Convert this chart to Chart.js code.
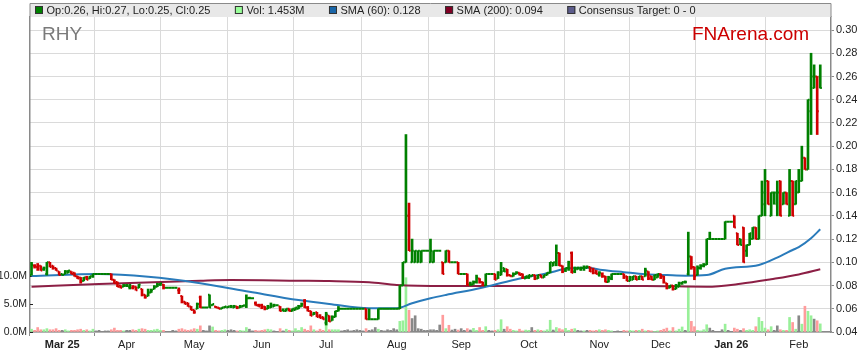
<!DOCTYPE html>
<html><head><meta charset="utf-8">
<script src="https://cdn.jsdelivr.net/npm/chart.js@4.4.1/dist/chart.umd.min.js"></script>
<style>html,body{margin:0;padding:0;background:#fff;}#wrap{position:relative;width:859px;height:363px;}</style>
</head><body><div id="wrap"><canvas id="c" width="859" height="363"></canvas></div>
<script>
// ---------- DATA ----------
const symbol = 'RHY';
const brand = 'FNArena.com';
// x index = weekday number counted from 17 Feb 2025
const monthTickIdx = [10,31,53,75,96,119,140,162,185,205,228,250];
const monthTickLabels = ['Mar 25','Apr','May','Jun','Jul','Aug','Sep','Oct','Nov','Dec','Jan 26','Feb'];
const yearTickLabels = ['Mar 25','Jan 26'];
const priceTicks = [0.04,0.06,0.08,0.10,0.12,0.14,0.16,0.18,0.20,0.22,0.24,0.26,0.28,0.30];
const volTicksM = [0,5,10];
const legendTexts = ['Op:0.26, Hi:0.27, Lo:0.25, Cl:0.25','Vol: 1.453M','SMA (60): 0.128','SMA (200): 0.094','Consensus Target: 0 - 0'];

const opens = [
.089,.097,.096,.097,.094,.090,.100,.097,.095,.092,
.090,.090,.091,.092,.091,.088,.087,.084,.087,.086,
.088,.090,.090,.090,.090,.090,.090,.085,.083,.080,
.079,.080,.079,.078,.079,.078,.077,.072,.071,.074,
.077,.079,.081,.081,.078,.078,.078,.078,.076,.071,
.066,.065,.062,.059,.060,.070,.061,.061,.072,.063,
.062,.061,.060,.061,.061,.062,.061,.062,.061,.062,
.062,.069,.069,.065,.063,.063,.062,.060,.061,.062,
.063,.062,.059,.058,.060,.058,.059,.060,.062,.067,
.061,.058,.055,.057,.054,.053,.048,.054,.050,.053,
.058,.060,.060,.060,.060,.060,.060,.060,.060,.060,
.051,.051,.051,.051,.060,.060,.060,.060,.060,.060,
.060,.080,.100,.140,.100,.100,.100,.100,.110,.110,
.100,.100,.110,.110,.100,.100,.110,.100,.100,.100,
.090,.090,.090,.082,.081,.083,.086,.083,.080,.090,
.090,.090,.086,.089,.095,.094,.089,.088,.090,.091,
.090,.086,.087,.088,.089,.086,.089,.087,.089,.091,
.097,.100,.108,.097,.093,.095,.108,.092,.094,.094,
.095,.095,.096,.094,.093,.089,.090,.088,.083,.086,
.090,.090,.090,.090,.088,.084,.085,.088,.086,.088,
.088,.092,.088,.085,.087,.090,.088,.082,.078,.080,
.077,.079,.082,.083,.090,.105,.096,.089,.095,.097,
.098,.120,.120,.120,.120,.120,.120,.135,.135,.140,
.125,.120,.130,.110,.115,.120,.130,.120,.140,.150,
.170,.140,.160,.150,.170,.150,.160,.140,.170,.150,
.160,.170,.190,.180,.230,.250,.260,.260];
const highs = [
.100,.098,.099,.097,.096,.100,.100,.097,.095,.092,
.090,.093,.093,.092,.091,.088,.087,.087,.088,.088,
.090,.090,.090,.090,.090,.090,.090,.085,.083,.080,
.081,.081,.081,.080,.079,.081,.077,.072,.077,.077,
.080,.082,.082,.081,.078,.078,.078,.078,.078,.071,
.066,.065,.062,.059,.065,.071,.061,.061,.072,.064,
.062,.061,.061,.062,.062,.063,.063,.062,.063,.063,
.072,.070,.069,.066,.064,.064,.062,.063,.065,.064,
.063,.062,.060,.060,.060,.060,.061,.063,.065,.068,
.062,.058,.057,.057,.055,.053,.057,.054,.054,.058,
.062,.060,.060,.060,.060,.060,.060,.060,.060,.060,
.060,.051,.051,.060,.060,.060,.060,.060,.060,.060,
.080,.100,.210,.151,.120,.110,.110,.110,.110,.110,
.120,.110,.110,.110,.100,.110,.110,.100,.100,.100,
.090,.090,.090,.083,.084,.089,.086,.083,.090,.090,
.090,.090,.092,.100,.095,.094,.089,.091,.092,.091,
.090,.088,.089,.089,.089,.089,.089,.089,.091,.100,
.100,.115,.108,.097,.095,.101,.109,.096,.096,.096,
.097,.097,.096,.095,.093,.092,.091,.088,.088,.090,
.090,.090,.090,.090,.088,.088,.088,.088,.088,.088,
.095,.092,.088,.089,.090,.090,.088,.082,.080,.080,
.081,.083,.083,.084,.126,.105,.096,.097,.098,.099,
.120,.126,.120,.120,.120,.120,.135,.135,.135,.140,
.125,.120,.130,.115,.125,.130,.130,.140,.170,.180,
.170,.160,.160,.170,.170,.160,.160,.180,.170,.170,
.180,.200,.190,.240,.280,.270,.260,.270];
const lows = [
.089,.095,.093,.093,.093,.089,.096,.094,.093,.089,
.089,.090,.091,.090,.088,.086,.082,.084,.085,.086,
.087,.090,.090,.090,.090,.090,.085,.082,.079,.078,
.079,.079,.077,.077,.076,.078,.071,.069,.071,.074,
.077,.079,.080,.077,.078,.078,.078,.078,.073,.065,
.064,.062,.059,.056,.060,.061,.061,.061,.061,.063,
.061,.060,.060,.061,.061,.061,.061,.060,.061,.062,
.061,.069,.069,.063,.062,.060,.059,.060,.061,.062,
.063,.058,.058,.058,.058,.058,.059,.060,.062,.061,
.058,.054,.055,.053,.052,.051,.046,.049,.050,.053,
.058,.060,.060,.060,.060,.060,.060,.060,.060,.051,
.051,.051,.051,.051,.060,.060,.060,.060,.060,.060,
.060,.080,.100,.110,.100,.100,.100,.100,.110,.110,
.100,.100,.110,.110,.090,.100,.100,.100,.100,.090,
.090,.090,.080,.080,.081,.082,.082,.080,.080,.090,
.090,.085,.086,.089,.092,.088,.088,.088,.090,.089,
.086,.086,.086,.088,.085,.086,.087,.087,.089,.091,
.097,.097,.097,.091,.092,.093,.091,.091,.094,.093,
.093,.095,.092,.090,.090,.088,.087,.083,.083,.085,
.090,.090,.090,.086,.084,.084,.085,.085,.085,.085,
.088,.085,.085,.085,.087,.086,.082,.077,.078,.076,
.077,.079,.081,.082,.089,.094,.085,.089,.094,.096,
.098,.120,.120,.120,.120,.120,.120,.135,.135,.130,
.115,.115,.100,.105,.115,.120,.120,.120,.140,.140,
.150,.140,.150,.140,.140,.150,.150,.140,.140,.150,
.160,.170,.180,.180,.210,.250,.210,.250];
const closes = [
.098,.097,.095,.093,.095,.100,.096,.095,.093,.089,
.089,.092,.093,.090,.088,.086,.083,.087,.085,.088,
.090,.090,.090,.090,.090,.090,.085,.082,.079,.078,
.080,.080,.080,.079,.076,.081,.072,.070,.074,.076,
.079,.081,.082,.078,.078,.078,.078,.078,.076,.066,
.064,.062,.059,.057,.064,.061,.061,.061,.061,.064,
.061,.060,.061,.062,.062,.062,.062,.061,.062,.063,
.069,.069,.069,.063,.062,.061,.060,.062,.063,.063,
.063,.058,.058,.060,.058,.060,.061,.062,.064,.061,
.058,.054,.056,.053,.052,.051,.055,.049,.053,.058,
.060,.060,.060,.060,.060,.060,.060,.060,.060,.051,
.051,.051,.051,.060,.060,.060,.060,.060,.060,.060,
.080,.100,.140,.110,.110,.110,.110,.110,.110,.110,
.110,.110,.110,.110,.090,.110,.100,.100,.100,.090,
.090,.090,.081,.081,.083,.087,.083,.080,.090,.090,
.090,.085,.091,.092,.092,.089,.088,.090,.091,.089,
.087,.088,.089,.089,.086,.089,.087,.089,.091,.100,
.100,.108,.097,.092,.095,.100,.091,.095,.095,.095,
.096,.096,.092,.091,.090,.091,.088,.083,.087,.090,
.090,.090,.090,.087,.084,.087,.088,.085,.088,.085,
.093,.086,.085,.089,.090,.087,.083,.078,.080,.077,
.080,.082,.083,.083,.105,.096,.088,.095,.097,.098,
.120,.120,.120,.120,.120,.120,.135,.135,.135,.130,
.115,.115,.100,.115,.125,.130,.120,.140,.160,.170,
.150,.160,.160,.160,.140,.160,.150,.170,.140,.170,
.170,.190,.180,.240,.260,.260,.230,.250];
// volume in millions of shares
const volumesM = [
0.5,0.3,0.8,0.4,0.4,0.6,0.4,0.4,0.6,0.3,
0.3,0.4,0.2,0.3,0.3,0.4,0.5,0.3,0.4,0.2,
0.5,0.2,0.3,0.1,0.2,0.2,0.4,0.7,0.3,0.3,
0.2,0.3,0.3,0.4,0.3,0.5,0.6,0.5,0.3,0.3,
0.4,0.5,0.3,0.3,0,0,0.3,0.2,0.5,0.6,
0.4,0.3,0.4,0.6,0.5,1.1,0.3,0.2,1.1,0.9,
0.3,0.2,0.3,0.4,0.3,0.4,0.3,0.2,0.3,0.2,
0.8,0.5,0.2,0.3,0.2,0.3,0.4,0.5,0.4,0.2,
0,0.6,0.2,0.5,0.3,0.2,0.6,0.3,0.8,0.5,
0.3,1.1,0.4,0.2,0.5,0.3,2.1,0.4,0.4,0.4,
0.4,0.2,0.3,0.4,0.2,0.3,0.4,0.3,0.2,0.6,
0.3,0.4,0.8,0.5,0.3,0.2,0.4,0.3,0.6,0.4,
1.9,2.0,9.7,3.9,2.4,2.9,0.6,0.5,0.3,0.3,
0.4,0.4,0.3,1.25,3.0,0.6,1.2,0.35,0.5,0.35,
0.6,0.3,0.6,0.35,0.65,0.3,0.8,0.3,0.95,0.3,
0.2,0.3,0.4,2.2,0.5,0.95,0.5,0.3,0.2,0.5,
0.2,0.35,0.3,0.8,0.3,0.4,0.3,0.2,0.4,2.1,
0.35,0.8,0.6,0.4,0.65,0.3,0.5,0.6,0.3,0.2,
0.2,0.3,0.3,0.2,0.3,0.4,0.3,0.4,0.3,0.2,
0.1,0.2,0.1,0.3,0.2,0.3,0.2,0.3,0.3,0.5,
0.2,0.3,0.2,0.1,0.2,0.3,0.5,0.7,0.2,0.8,
0.2,0.5,0.9,0.3,8.2,1.9,0.95,0.3,0.2,0.4,
1.3,0.7,0.3,0,0,0.4,1.4,0.3,0,0.7,
0.5,0.3,0.6,0.3,0.4,0.3,0.95,2.6,1.9,0.7,
0.4,0.95,0.3,1.1,0.4,0.3,0.3,2.6,1.7,0.5,
2.9,1.4,4.6,3.7,2.9,2.3,2.0,1.45];
// moving averages at sample days
const sma60Idx = [0,22,38,55,71,87,97,110,119,124,130,135,146,157,162,168,175,181,186,193,200,207,213,220,226,237,244,248,250,254,257];
const sma60Val = [.0882,.0899,.0876,.0820,.0747,.0675,.0641,.0604,.0604,.0647,.0690,.0719,.0776,.0848,.0875,.0905,.0948,.0954,.0934,.0915,.0897,.0890,.0885,.0890,.0945,.0977,.1054,.1106,.1130,.1207,.1284];
const sma200Idx = [0,22,55,65,87,97,110,119,135,160,179,200,220,231,241,250,257];
const sma200Val = [.0790,.0813,.0842,.0848,.0842,.0839,.0828,.0805,.0796,.0796,.0796,.0796,.0790,.0815,.0854,.0895,.0940];

// ---------- STYLE ----------
const FONT = "'Liberation Sans', Arial, sans-serif";
const UP = '#008000', DOWN = '#d00000';
const VUP = '#99f099', VDOWN = '#ff9c9c', VFLAT = '#888888';
const legendColors = ['#008000','#99ff99','#1a66a8','#800024','#5c5c8c'];
const GRID = '#dadada', AXIS = '#8a8a8a', TXT = '#222';

const dir = closes.map((c,i)=> i===0 ? 1 : (c > closes[i-1] ? 1 : (c < closes[i-1] ? -1 : 0)));
const barColors = dir.map(d => d < 0 ? DOWN : UP);
const volColors = dir.map(d => d > 0 ? VUP : (d < 0 ? VDOWN : VFLAT));

const ohlcTicks = {
  id:'ohlcTicks',
  afterDatasetsDraw(chart){
    const xs = chart.scales.x, ys = chart.scales.yP, ctx = chart.ctx, a = chart.chartArea;
    const step = xs.getPixelForValue(1) - xs.getPixelForValue(0);
    const len = step/2;
    ctx.save();
    ctx.beginPath(); ctx.rect(a.left, a.top, a.right-a.left, a.bottom-a.top); ctx.clip();
    ctx.lineWidth = 2; ctx.lineCap = 'butt';
    for (let i=0;i<closes.length;i++){
      const x = xs.getPixelForValue(i);
      const yo = ys.getPixelForValue(opens[i]), yc = ys.getPixelForValue(closes[i]);
      ctx.strokeStyle = barColors[i];
      ctx.beginPath();
      ctx.moveTo(x-len, yo); ctx.lineTo(x, yo);
      ctx.moveTo(x, yc); ctx.lineTo(x+len, yc);
      ctx.stroke();
    }
    ctx.restore();
  }
};

const decor = {
  id:'decor',
  beforeDraw(chart){
    const ctx = chart.ctx;
    ctx.save();
    ctx.fillStyle = '#fff'; ctx.fillRect(0,0,chart.width,chart.height);
    ctx.restore();
  },
  beforeDatasetsDraw(chart){
    const ctx = chart.ctx, a = chart.chartArea, yv = chart.scales.yV;
    ctx.save();
    ctx.font = '19px ' + FONT; ctx.textBaseline = 'alphabetic';
    ctx.fillStyle = '#7a7a7a'; ctx.fillText(symbol, 42, 40);
    ctx.fillStyle = '#cc0000'; ctx.fillText(brand, 692, 40);
    // inner tick marks of the volume axis
    ctx.strokeStyle = '#222'; ctx.lineWidth = 1;
    volTicksM.forEach(v => {
      const y = Math.round(yv.getPixelForValue(v)) + 0.5;
      ctx.beginPath(); ctx.moveTo(a.left, y); ctx.lineTo(a.left + 3, y); ctx.stroke();
    });
    ctx.restore();
  },
  afterDraw(chart){
    const ctx = chart.ctx, a = chart.chartArea;
    ctx.save();
    ctx.fillStyle = '#e8e8e8';
    ctx.fillRect(a.left, 3, a.right-a.left, a.top-3);
    ctx.strokeStyle = AXIS; ctx.lineWidth = 1;
    ctx.beginPath();
    ctx.moveTo(a.left, a.top); ctx.lineTo(a.left, 3.5); ctx.lineTo(a.right, 3.5); ctx.lineTo(a.right, a.top);
    ctx.stroke();
    ctx.font = '11px ' + FONT; ctx.textBaseline = 'middle';
    let x = a.left + 5;
    legendTexts.forEach((t,i)=>{
      ctx.fillStyle = legendColors[i]; ctx.fillRect(x, 6, 8, 8);
      ctx.strokeStyle = '#333'; ctx.lineWidth = 1; ctx.strokeRect(x+0.5, 6.5, 7, 7);
      ctx.fillStyle = TXT; ctx.fillText(t, x+11.5, 10.5);
      x += 11.5 + ctx.measureText(t).width + 24.5;
    });
    ctx.restore();
  }
};

const hlData = highs.map((h,i)=>({x:i, y:[lows[i], h]}));
const volData = volumesM.map((v,i)=>({x:i, y:v}));

new Chart(document.getElementById('c'), {
  type:'bar',
  data:{ datasets:[
    { type:'bar', label:'OHLC', data: hlData, xAxisID:'x', yAxisID:'yP', backgroundColor: barColors, barThickness:2, grouped:false, order:1, borderWidth:0, borderSkipped:false },
    { type:'line', label:'SMA (60)', data: sma60Idx.map((x,k)=>({x, y:sma60Val[k]})), xAxisID:'x', yAxisID:'yP', borderColor:'#2a7bbb', borderWidth:2, pointRadius:0, cubicInterpolationMode:'monotone', order:2 },
    { type:'line', label:'SMA (200)', data: sma200Idx.map((x,k)=>({x, y:sma200Val[k]})), xAxisID:'x', yAxisID:'yP', borderColor:'#8c1f45', borderWidth:2, pointRadius:0, cubicInterpolationMode:'monotone', order:3 },
    { type:'bar', label:'Vol', data: volData, xAxisID:'x', yAxisID:'yV', backgroundColor: volColors, barThickness:2, grouped:false, order:4, borderWidth:0 }
  ]},
  options:{
    responsive:false, animation:false, devicePixelRatio:1,
    layout:{ padding:{ top:17, left:0, right:0, bottom:0 } },
    plugins:{ legend:{display:false}, tooltip:{enabled:false}, title:{display:false} },
    scales:{
      x:{ type:'linear', min:-0.5, max:260.5, position:'bottom', offset:false,
        afterBuildTicks: s => { s.ticks = monthTickIdx.map(v=>({value:v})); },
        afterFit: s => { s.height = 31; },
        grid:{ color:GRID, lineWidth:1, drawTicks:true, tickLength:4, tickColor:AXIS },
        border:{ color:AXIS, width:1.5 },
        ticks:{ autoSkip:false, maxRotation:0, padding:2, color:TXT,
          callback:(v,i)=> monthTickLabels[i],
          font: c => ({ family:FONT, size:11, weight: yearTickLabels.includes(monthTickLabels[c.index]) ? 'bold' : 'normal' }) }
      },
      yP:{ type:'linear', position:'right', min:0.04, max:0.3112,
        afterBuildTicks: s => { s.ticks = priceTicks.map(v=>({value:v})); },
        afterFit: s => { s.width = 28; },
        grid:{ color:GRID, lineWidth:1, drawTicks:true, tickLength:3, tickColor:AXIS },
        border:{ color:AXIS, width:1.5 },
        ticks:{ padding:2, color:TXT, font:{family:FONT, size:11}, callback: v => v.toFixed(2) }
      },
      yV:{ type:'linear', position:'left', min:0, max:56.25,
        afterBuildTicks: s => { s.ticks = volTicksM.map(v=>({value:v})); },
        afterFit: s => { s.width = 30; },
        grid:{ drawOnChartArea:false, drawTicks:false },
        border:{ color:AXIS, width:1.5 },
        ticks:{ padding:3, color:TXT, font:{family:FONT, size:10.5}, callback: v => v.toFixed(1)+'M' }
      }
    }
  },
  plugins:[decor, ohlcTicks]
});
</script></body></html>
